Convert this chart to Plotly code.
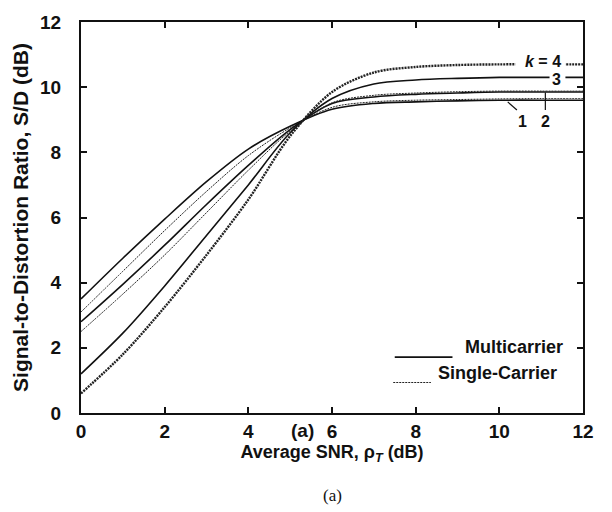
import plotly.graph_objects as go

# ---- data ----
snr_db = [0, 1, 2, 3, 4, 5, 6, 7, 8, 9, 10, 11, 12]
mc_k1 = [3.5, 4.75, 5.95, 7.1, 8.1, 8.8, 9.32, 9.5, 9.55, 9.58, 9.6, 9.6, 9.6]
sc_k1 = [3.1, 4.35, 5.6, 6.8, 7.9, 8.75, 9.38, 9.55, 9.6, 9.62, 9.64, 9.65, 9.65]
mc_k2 = [2.8, 3.95, 5.15, 6.4, 7.6, 8.7, 9.5, 9.7, 9.78, 9.82, 9.85, 9.85, 9.85]
sc_k2 = [2.5, 3.65, 4.85, 6.15, 7.45, 8.65, 9.52, 9.75, 9.82, 9.86, 9.88, 9.88, 9.88]
mc_k3 = [1.2, 2.45, 3.9, 5.45, 7.0, 8.6, 9.65, 10.1, 10.22, 10.27, 10.3, 10.3, 10.3]
sc_k4 = [0.6, 1.8, 3.25, 4.85, 6.55, 8.5, 9.85, 10.45, 10.62, 10.68, 10.7, 10.7, 10.7]

x_ticks = [0, 2, 4, 6, 8, 10, 12]
y_ticks = [0, 2, 4, 6, 8, 10, 12]

FONT = "Liberation Sans"
BLACK = "#111111"

fig = go.Figure()

solid = dict(color=BLACK, width=1.6, shape="spline", smoothing=0.9)
thin = dict(color="#222222", width=1.0, dash="2px,1px", shape="spline", smoothing=0.9)
heavy_dot = dict(color="#222222", width=2.4, dash="2px,1px", shape="spline", smoothing=0.9)

for ys, ln in [(mc_k1, solid), (sc_k1, thin), (mc_k2, solid),
               (sc_k2, thin), (mc_k3, solid), (sc_k4, heavy_dot)]:
    fig.add_trace(go.Scatter(x=snr_db, y=ys, mode="lines", line=ln,
                             showlegend=False, hoverinfo="skip"))

tick_font = dict(family=FONT, size=19, color=BLACK, weight="bold")
axis_common = dict(
    showgrid=False, zeroline=False, showline=True, linecolor=BLACK,
    linewidth=2, mirror="ticks", ticks="inside", ticklen=6, tickwidth=1.5,
    tickcolor=BLACK, tickfont=tick_font,
)

fig.update_xaxes(range=[0, 12], tickvals=x_ticks,
                 title=dict(text="Average SNR, ρ<sub><i>T</i></sub> (dB)",
                            font=dict(family=FONT, size=18, color=BLACK, weight="bold"),
                            standoff=4),
                 **axis_common)
fig.update_yaxes(range=[0, 12], tickvals=y_ticks, ticklabelstandoff=14,
                 title=dict(text="Signal-to-Distortion Ratio, S/D (dB)",
                            font=dict(family=FONT, size=21, color=BLACK, weight="bold"),
                            standoff=6),
                 **axis_common)

# "(a)" in the tick-label row
fig.add_annotation(xref="x", yref="paper", x=5.3, y=0, yanchor="top", yshift=-5,
                   text="(a)", showarrow=False, font=tick_font)

# white gaps behind the k = 4 and 3 labels (curves interrupted by the labels)
for (x0, x1, y0, y1) in [(10.38, 11.58, 10.58, 10.98), (11.2, 11.58, 10.1, 10.42)]:
    fig.add_shape(type="rect", xref="x", yref="y", x0=x0, x1=x1, y0=y0, y1=y1,
                  fillcolor="white", line=dict(width=0), layer="above")

# curve labels
lab_font = dict(family=FONT, size=16, color=BLACK, weight="bold")
fig.add_annotation(x=11.5, y=10.8, text="<i>k</i> = 4", showarrow=False,
                   xanchor="right", borderpad=0, font=lab_font)
fig.add_annotation(x=11.5, y=10.24, text="3", showarrow=False,
                   xanchor="right", borderpad=0, font=lab_font)
fig.add_annotation(x=10.55, y=8.95, text="1", showarrow=False, borderpad=0, font=lab_font)
fig.add_annotation(x=11.1, y=8.95, text="2", showarrow=False, borderpad=0, font=lab_font)
for (x0, y0, x1, y1) in [(10.2, 9.55, 10.42, 9.3), (11.1, 9.84, 11.1, 9.3)]:
    fig.add_shape(type="line", x0=x0, y0=y0, x1=x1, y1=y1, xref="x", yref="y",
                  line=dict(color=BLACK, width=1.2))

# hand-drawn legend
leg_font = dict(family=FONT, size=18, color=BLACK, weight="bold")
fig.add_shape(type="line", xref="paper", yref="paper", x0=0.625, x1=0.74,
              y0=0.143, y1=0.143, line=dict(color=BLACK, width=1.6))
fig.add_annotation(xref="paper", yref="paper", x=0.76, y=0.143, yshift=-2,
                   text="Multicarrier", showarrow=False, xanchor="left", font=leg_font)
fig.add_shape(type="line", xref="paper", yref="paper", x0=0.622, x1=0.697,
              y0=0.078, y1=0.078, line=dict(color="#222222", width=1.0, dash="2px,1px"))
fig.add_annotation(xref="paper", yref="paper", x=0.708, y=0.078, yshift=-2,
                   text="Single-Carrier", showarrow=False, xanchor="left", font=leg_font)

# caption
fig.add_annotation(xref="paper", yref="paper", x=0.5, y=-0.21, yanchor="middle",
                   text="(a)", showarrow=False,
                   font=dict(family="Liberation Serif", size=17, color=BLACK))

fig.update_layout(width=612, height=512, margin=dict(l=81, r=29, t=22, b=99),
                  paper_bgcolor="white", plot_bgcolor="white")

fig.write_html("out.html")
